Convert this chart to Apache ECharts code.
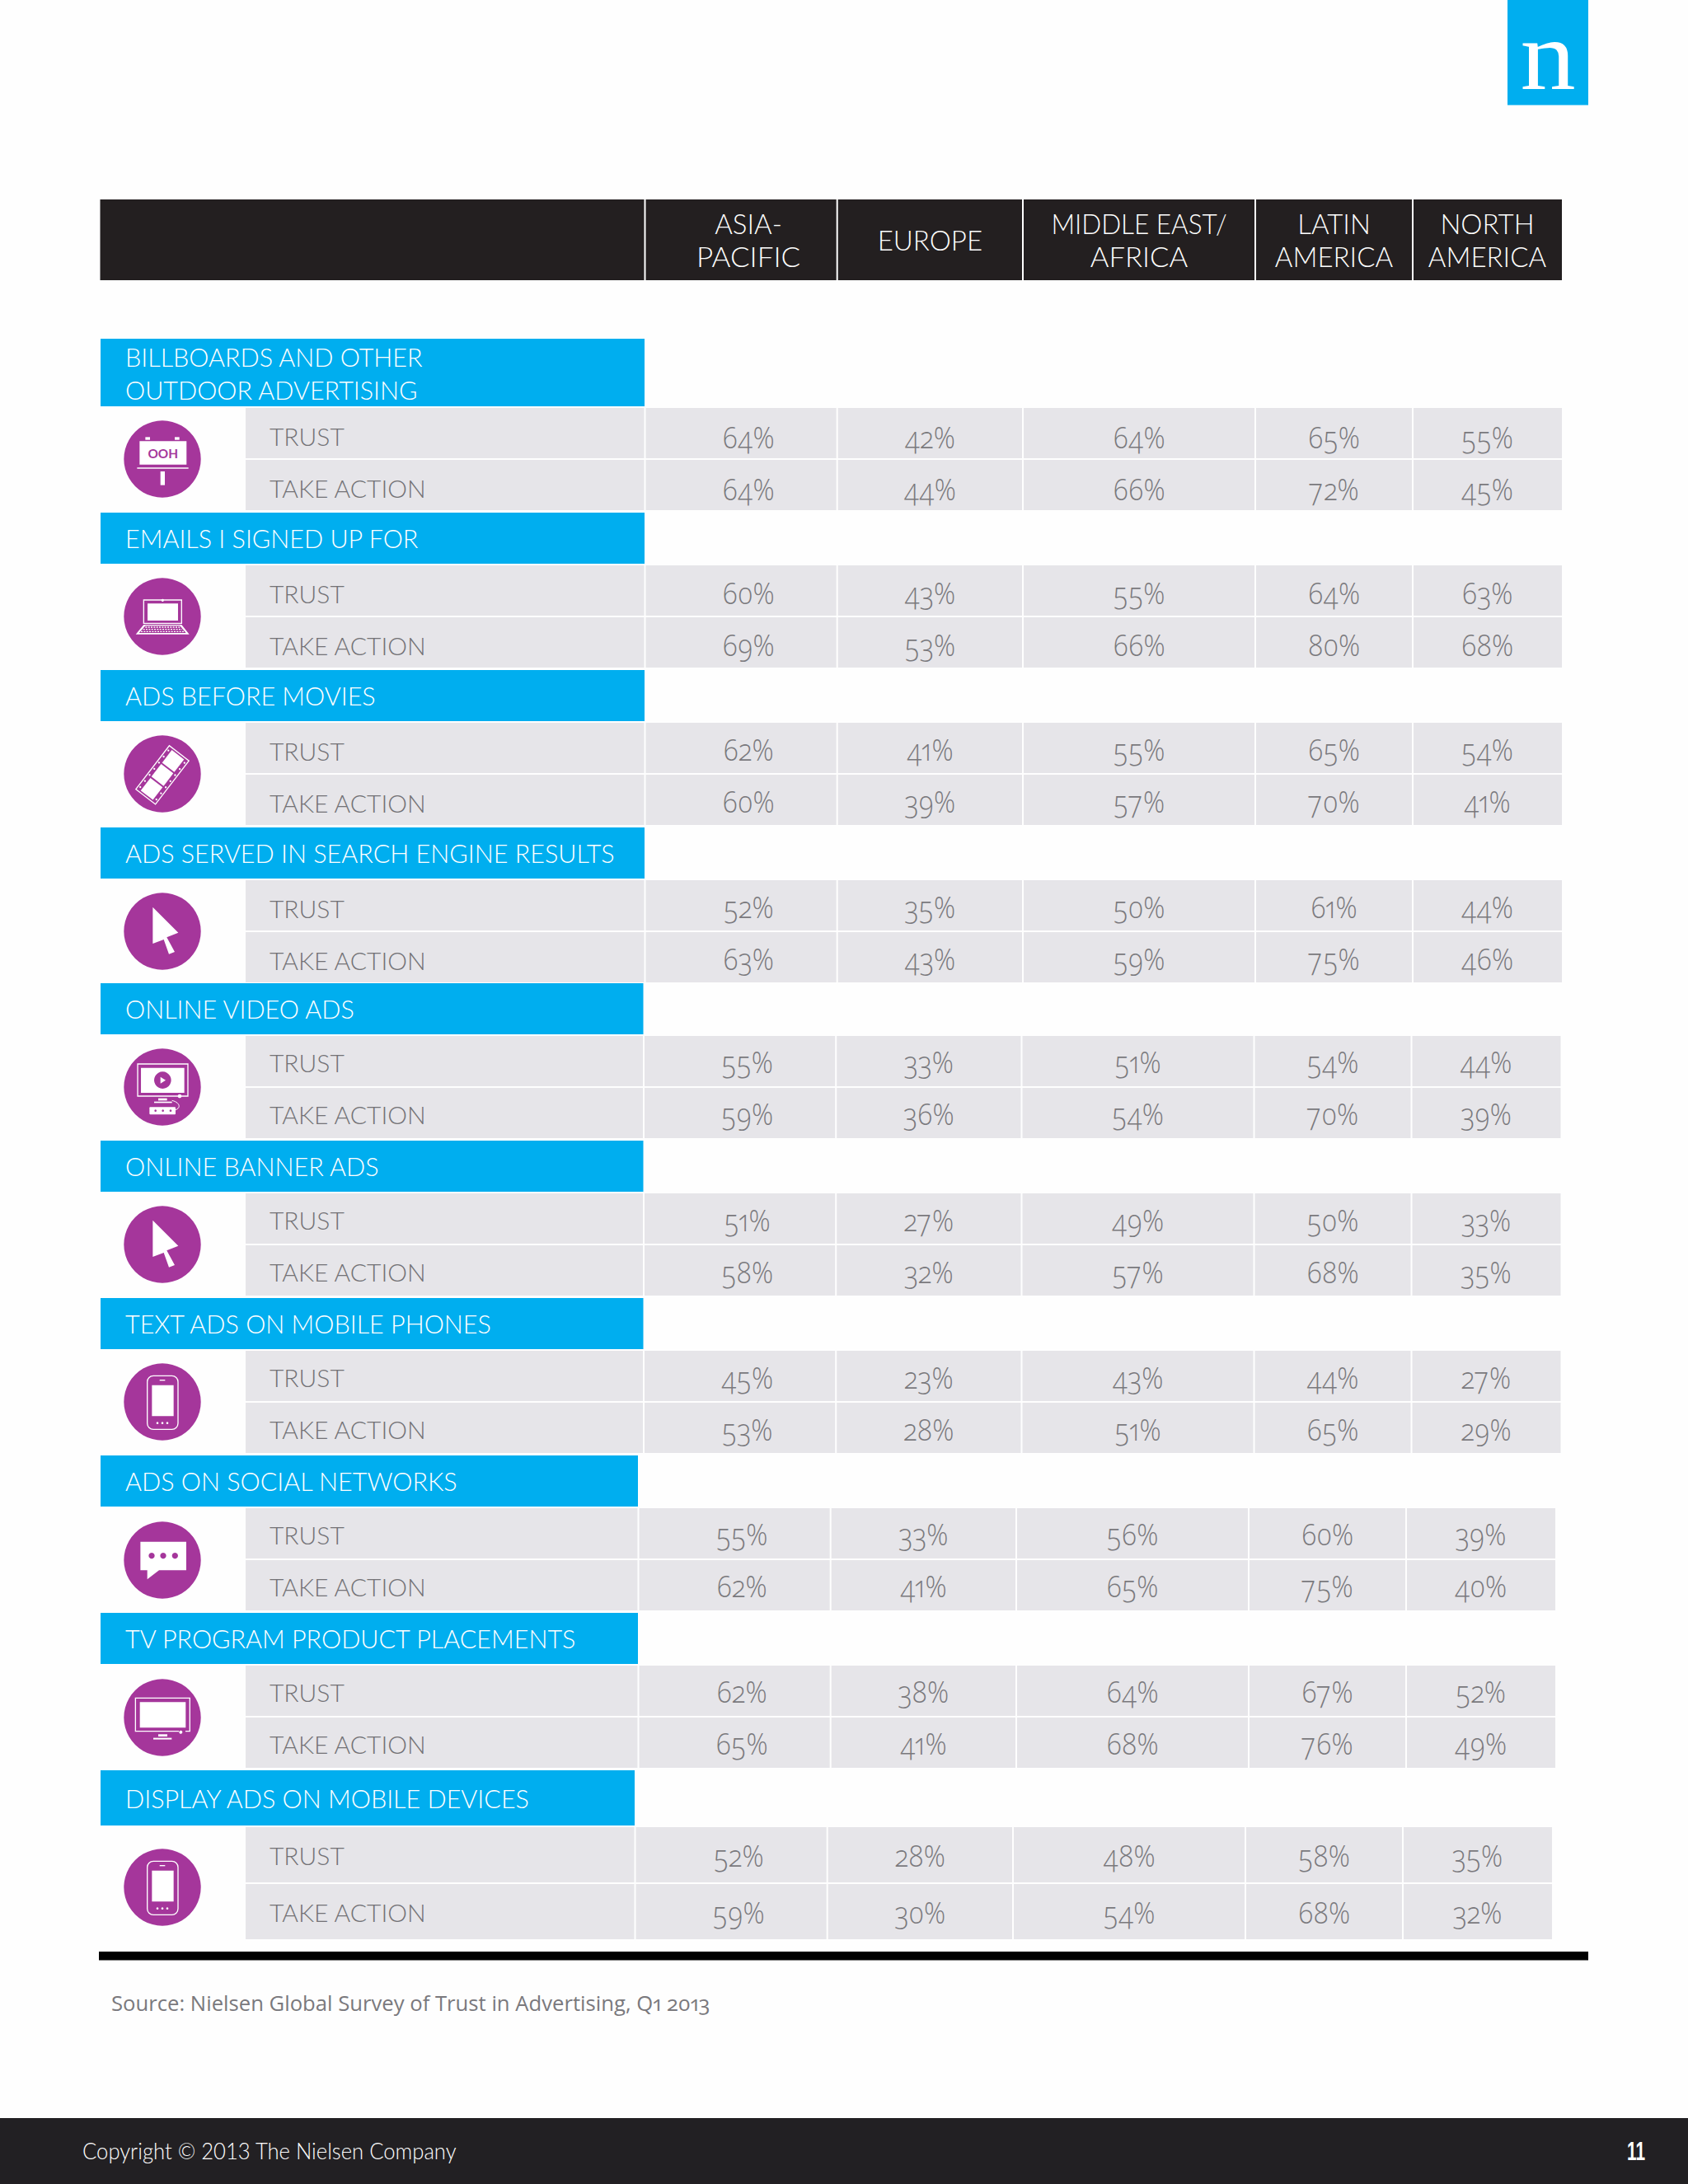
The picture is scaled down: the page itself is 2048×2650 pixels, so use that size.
<!DOCTYPE html>
<html><head><meta charset="utf-8">
<style>html,body{margin:0;padding:0;background:#fefefe}#c{width:2048px;height:2650px}
#c text[style*="Open Sans"]{font-feature-settings:"onum" 1,"pnum" 1;}
</style>
<script src="https://cdn.jsdelivr.net/npm/echarts@6/dist/echarts.min.js"></script>
</head><body><div id="c"></div>
<script>
const regions = [['ASIA-','PACIFIC'],['EUROPE'],['MIDDLE EAST/','AFRICA'],['LATIN','AMERICA'],['NORTH','AMERICA']];
const mediaTypes = [['BILLBOARDS AND OTHER','OUTDOOR ADVERTISING'],['EMAILS I SIGNED UP FOR'],['ADS BEFORE MOVIES'],['ADS SERVED IN SEARCH ENGINE RESULTS'],['ONLINE VIDEO ADS'],['ONLINE BANNER ADS'],['TEXT ADS ON MOBILE PHONES'],['ADS ON SOCIAL NETWORKS'],['TV PROGRAM PRODUCT PLACEMENTS'],['DISPLAY ADS ON MOBILE DEVICES']];
const metrics = ['TRUST','TAKE ACTION'];
const asiaPacificTrust  = [64,60,62,52,55,51,45,55,62,52];
const asiaPacificAction = [64,69,60,63,59,58,53,62,65,59];
const europeTrust       = [42,43,41,35,33,27,23,33,38,28];
const europeAction      = [44,53,39,43,36,32,28,41,41,30];
const meaTrust          = [64,55,55,50,51,49,43,56,64,48];
const meaAction         = [66,66,57,59,54,57,51,65,68,54];
const latinTrust        = [65,64,65,61,54,50,44,60,67,58];
const latinAction       = [72,80,70,75,70,68,65,75,76,68];
const northTrust        = [55,63,54,44,44,33,27,39,52,35];
const northAction       = [45,68,41,46,39,35,29,40,49,32];
const iconNames = ['ooh','laptop','film','cursor','video','cursor','phone','chat','tv','phone'];
const sourceText = 'Source: Nielsen Global Survey of Trust in Advertising, Q1 2013';
const copyrightText = 'Copyright © 2013 The Nielsen Company';
const pageNumber = '11';

// ---- layout (page pixels) ----
const BLUE='#00aeef', GREY='#e6e5e9', INK='#231f20', PURPLE='#a5369b', TXT='#7a797d', LBL='#737276';
const LIGHT='Lato', NUM='Open Sans';
const colEdges=[782.5,1015.7,1241,1523,1714,1895];
const colShift=[0,0,0,0,-1.5,-1.5,-1.5,-8,-8,-12];
const blueTop=[411,622,813,1004,1193,1384,1575,1766,1957,2148];
const blueBot=[493,684,875,1066,1255,1446,1637,1828,2019,2215];
const rowH=[61,61,61,61,61,61,61,61,61,67];
const iconCy=[557,748,939,1130,1319,1510,1701,1893,2084,2290];
const numDx=[9,0,0,0,0];
const numDy=[4,2.5,1,1,0.5,1,1,0.5,0.5,0.5];
const lblDy=[3,3,3,3,1,1,1,1,1,0];
const headerSx={'MIDDLE EAST/':0.955,'PACIFIC':1.06,'AFRICA':1.05};
const seriesByRegion=[[asiaPacificTrust,asiaPacificAction],[europeTrust,europeAction],[meaTrust,meaAction],[latinTrust,latinAction],[northTrust,northAction]];

const cells=[];
mediaTypes.forEach((_,s)=>metrics.forEach((_,m)=>regions.forEach((_,r)=>cells.push([s,m,r,seriesByRegion[r][m][s]]))));
const labels=[];
mediaTypes.forEach((_,s)=>metrics.forEach((_,m)=>labels.push([s,m])));

function rowY(s,m){const t=blueBot[s]+2+m*(rowH[s]+2);return [t,t+rowH[s]];}
function rect(api,x0,y0,x1,y1,fill){const a=api.coord([x0,y0]),b=api.coord([x1,y1]);return {type:'rect',shape:{x:a[0],y:a[1],width:b[0]-a[0],height:b[1]-a[1]},style:{fill}};}
function txt(api,x,y,t,size,fam,weight,fill,align,sx){const p=api.coord([x,y]);return {type:'text',x:p[0],y:p[1],scaleX:sx||1,style:{text:t,x:0,y:0,fontSize:size,fontFamily:fam,fontWeight:weight,fill,textAlign:align||'center',textVerticalAlign:'middle'}};}

// icon parts in units of 1/3 page pixel around the circle centre
function R(x0,y0,x1,y1,fill,r){return {type:'rect',shape:{x:x0,y:y0,width:x1-x0,height:y1-y0,r:r||0},style:{fill:fill||'#fff'}};}
function OR(x0,y0,x1,y1,w,r){return {type:'rect',shape:{x:x0,y:y0,width:x1-x0,height:y1-y0,r:r||0},style:{fill:'none',stroke:'#fff',lineWidth:w}};}
function C(x,y,r,fill){return {type:'circle',shape:{cx:x,cy:y,r},style:{fill:fill||'#fff'}};}
function P(pts,fill){return {type:'polygon',shape:{points:pts},style:{fill:fill||'#fff'}};}
function L(x0,y0,x1,y1,w,dash){return {type:'line',shape:{x1:x0,y1:y0,x2:x1,y2:y1},style:{stroke:'#fff',lineWidth:w,lineDash:dash||null}};}
function film(){
  return [{type:'group',rotation:52.5*Math.PI/180,x:0,y:4,children:[
    OR(-100,-45,100,45,4),
    R(-93,-28,-35,28),R(-29,-28,29,28),R(35,-28,93,28)
  ].concat([-84,-56,-28,0,28,56,84].flatMap(x=>[C(x,-37,3.5),C(x,37,3.5)]))}];
}
const icons={
 ooh:()=>[R(-83,-65,88,20),R(-62,-80,-45,-70),R(45,-80,62,-70),R(-92,31,95,35),R(-7,45,9,95),
   {type:'text',style:{text:'OOH',x:2,y:-22,fontSize:46,fontFamily:'Lato',fontWeight:700,fill:PURPLE,textAlign:'center',textVerticalAlign:'middle'}}],
 laptop:()=>[OR(-68,-60,70,25,4),R(-54,-47,57,15),C(1,-59,5),
   P([[-68,30],[70,30],[98,65],[-97,65]]),
   P([[-62,34],[64,34],[86,60],[-85,60]],PURPLE),
   L(-62,39,64,39,4,[6,4]),L(-70,47,72,47,4,[6,4]),L(-78,55,80,55,4,[6,4])],
 film:film,
 cursor:()=>[P([[-35,-88],[58,5],[16,22],[45,75],[24,83],[5,30],[-35,45]])],
 video:()=>[OR(-90,-84,93,33,4),R(-78,-70,80,21),C(1,-25,31,PURPLE),P([[-7,-37],[12,-25],[-7,-13]]),C(63,33,7),
   R(-15,41,17,49),R(-30,53,35,58),R(-47,73,48,100,'#fff',3),C(-25,86,4,PURPLE),C(2,86,4,PURPLE),C(30,86,4,PURPLE),
   {type:'bezierCurve',shape:{x1:35,y1:49,cpx1:62,cpy1:55,cpx2:70,cpy2:75,x2:48,y2:83},style:{fill:'none',stroke:'#fff',lineWidth:3}}],
 phone:()=>[OR(-55,-95,57,100,4,22),R(-38,-61,41,52),R(-10,-81,10,-77),C(-18,77,4),C(0,77,4),C(18,77,4)],
 chat:()=>[P([[-80,-67],[87,-67],[87,37],[-12,37],[-55,70],[-55,37],[-80,37]]),C(-39,-16,11,PURPLE),C(3,-16,11,PURPLE),C(46,-16,11,PURPLE)],
 tv:()=>[OR(-98,-71,100,50,4),R(-82,-56,85,37),R(60,44,84,56,PURPLE),C(67,53,6),R(-15,61,18,69),R(-33,74,34,80)]
};

const chart=echarts.init(document.getElementById('c'),null,{renderer:'svg',width:2048,height:2650});
const x0Label=298, x0Blue=122;
chart.setOption({
 animation:false,
 backgroundColor:'#fefefe',
 grid:{left:0,right:0,top:0,bottom:0},
 xAxis:{type:'value',min:0,max:2048,show:false},
 yAxis:{type:'value',min:0,max:2650,inverse:true,show:false},
 series:[
  {name:'page',type:'custom',clip:false,silent:true,data:[[0]],renderItem:(p,api)=>({type:'group',children:[
     rect(api,1829,0,1927,127.5,BLUE),
     txt(api,1878,67.5,'n',120,'Liberation Serif',400,'#fff','center',1.12),
     rect(api,121.5,242,1895,340,INK),
     ...colEdges.slice(0,5).map(e=>rect(api,e-1,242,e+1,340,'#fff')),
     rect(api,120,2368,1927,2378.5,'#000'),
     txt(api,135,2430,sourceText,26,NUM,400,TXT,'left',0.987),
     rect(api,0,2570,2048,2650,'#222023'),
     txt(api,100,2609.5,copyrightText,27,'Lato',300,'#fff','left',0.95),
     txt(api,1985,2610,pageNumber,32,'Liberation Sans',700,'#fff','center',0.65)
  ]})},
  {name:'regions',type:'custom',clip:false,silent:true,data:regions.map((_,i)=>[i]),renderItem:(p,api)=>{
     const i=api.value(0),lines=regions[i];
     const cx=(colEdges[i]+colEdges[i+1])/2+numDx[i];
     return {type:'group',children:lines.map((t,k)=>txt(api,cx,lines.length==1?291:271+k*40,t,33,LIGHT,300,'#fff','center',headerSx[t]||1))};
  }},
  {name:'media',type:'custom',clip:false,silent:true,data:mediaTypes.map((_,i)=>[i]),renderItem:(p,api)=>{
     const s=api.value(0),lines=mediaTypes[s],mid=(blueTop[s]+blueBot[s])/2;
     return {type:'group',children:[rect(api,x0Blue,blueTop[s],colEdges[0]+colShift[s]-0.5,blueBot[s],BLUE)]
       .concat(lines.map((t,k)=>txt(api,152,lines.length==1?mid:433+k*40,t,30.5,LIGHT,300,'#fff','left')))};
  }},
  {name:'labels',type:'custom',clip:false,silent:true,data:labels,renderItem:(p,api)=>{
     const s=api.value(0),m=api.value(1),[t,b]=rowY(s,m);
     return {type:'group',children:[rect(api,x0Label,t,colEdges[0]+colShift[s]-1,b,GREY),txt(api,327,(t+b)/2+lblDy[s],metrics[m],30,LIGHT,300,LBL,'left')]};
  }},
  {name:'values',type:'custom',clip:false,silent:true,data:cells,renderItem:(p,api)=>{
     const s=api.value(0),m=api.value(1),r=api.value(2),v=api.value(3),[t,b]=rowY(s,m),d=colShift[s];
     const x0=colEdges[r]+d+1,x1=colEdges[r+1]+d-(r<4?1:0);
     return {type:'group',children:[rect(api,x0,t,x1,b,GREY),txt(api,(colEdges[r]+colEdges[r+1])/2+d+numDx[r],(t+b)/2+numDy[s],v+'%',36,NUM,300,TXT,'center',0.9)]};
  }},
  {name:'icons',type:'custom',clip:false,silent:true,data:iconNames.map((_,i)=>[i]),renderItem:(p,api)=>{
     const s=api.value(0),c=api.coord([197,iconCy[s]]);
     return {type:'group',x:c[0],y:c[1],children:[{type:'circle',shape:{cx:0,cy:0,r:46.7},style:{fill:PURPLE}},
       {type:'group',scaleX:1/3,scaleY:1/3,children:icons[iconNames[s]]()}]};
  }}
 ]
});
</script></body></html>
